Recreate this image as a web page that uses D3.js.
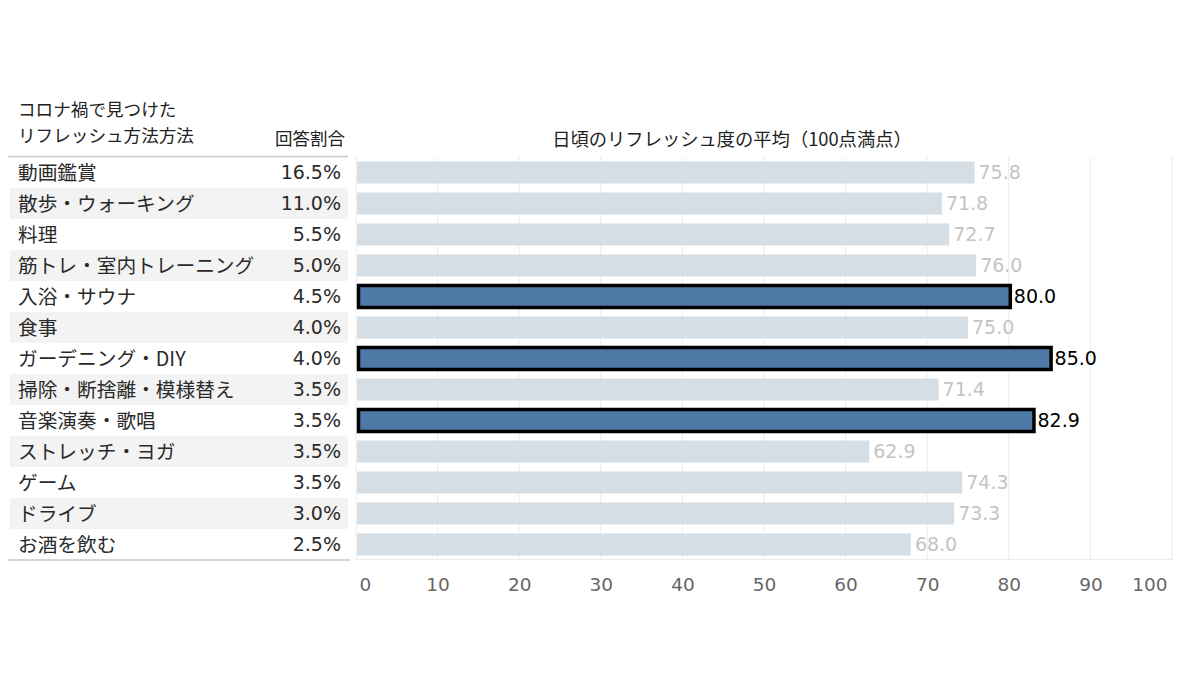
<!DOCTYPE html>
<html><head><meta charset="utf-8">
<script src="https://cdn.jsdelivr.net/npm/d3@7"></script>
<style>body{margin:0;background:#fff}svg{display:block}text{font-family:"DejaVu Sans","Noto Sans CJK JP",sans-serif}</style>
</head><body><svg id="c" width="1200" height="675"></svg>
<script>
const categories = ["動画鑑賞","散歩・ウォーキング","料理","筋トレ・室内トレーニング","入浴・サウナ","食事","ガーデニング・DIY","掃除・断捨離・模様替え","音楽演奏・歌唱","ストレッチ・ヨガ","ゲーム","ドライブ","お酒を飲む"];
const shares = ["16.5%","11.0%","5.5%","5.0%","4.5%","4.0%","4.0%","3.5%","3.5%","3.5%","3.5%","3.0%","2.5%"];
const scores = [75.8,71.8,72.7,76.0,80.0,75.0,85.0,71.4,82.9,62.9,74.3,73.3,68.0];
const highlighted = ["入浴・サウナ","ガーデニング・DIY","音楽演奏・歌唱"];
const ticks = [0,10,20,30,40,50,60,70,80,90,100];
const headerLines = ["コロナ禍で見つけた","リフレッシュ方法方法"];

const svg = d3.select("#c");
const x = d3.scaleLinear().domain([0,100]).range([356,1172]);
const y = d3.scaleBand().domain(categories).range([157,560]).paddingInner(0.29).paddingOuter(0.145);
const rowY = d3.scaleBand().domain(categories).range([157,560]);
const jp = '"Noto Sans CJK JP","DejaVu Sans",sans-serif';

// row bands
svg.append("g").selectAll("rect").data(categories.filter((d,i)=>i%2===1)).join("rect")
  .attr("x",10).attr("width",338).attr("y",d=>rowY(d)).attr("height",rowY.bandwidth()).attr("fill","#f3f3f3");

// grid
const g = svg.append("g");
g.selectAll("line.v").data(ticks).join("line").attr("class","v")
  .attr("x1",d=>x(d)).attr("x2",d=>x(d)).attr("y1",157).attr("y2",560)
  .attr("stroke","#ececec").attr("stroke-width",1);
g.append("line").attr("x1",x(0)).attr("x2",x(100)).attr("y1",559.5).attr("y2",559.5).attr("stroke","#ececec");

// table lines
svg.append("line").attr("x1",8).attr("x2",348).attr("y1",156.5).attr("y2",156.5).attr("stroke","#c8c8c8").attr("stroke-width",1.5);
svg.append("line").attr("x1",8).attr("x2",350).attr("y1",560).attr("y2",560).attr("stroke","#c8c8c8").attr("stroke-width",1.5);

// bars
const data = categories.map((c,i)=>({c,v:scores[i],s:shares[i],h:highlighted.includes(c)}));
svg.append("g").selectAll("rect").data(data).join("rect")
  .attr("x",d=>d.h?x(0)+2.5:x(0)+1).attr("y",d=>y(d.c))
  .attr("width",d=>x(d.v)-x(0)-1).attr("height",y.bandwidth())
  .attr("fill",d=>d.h?"#4e79a7":"#d5dde5")
  .attr("stroke",d=>d.h?"#000":"none").attr("stroke-width",3.5);

// value labels
svg.append("g").selectAll("text").data(data).join("text")
  .attr("x",d=>x(d.v)+(d.h?5:4)).attr("y",d=>y(d.c)+y.bandwidth()/2).attr("dy","0.36em")
  .attr("font-size",19).attr("fill",d=>d.h?"#000":"#c4c4c4")
  .text(d=>d.v.toFixed(1));

// category labels
svg.append("g").selectAll("text").data(data).join("text")
  .attr("x",18).attr("y",d=>rowY(d.c)+rowY.bandwidth()/2).attr("dy","0.36em")
  .attr("font-size",19.7).attr("fill","#2a2a2a").style("font-family",jp).text(d=>d.c);
svg.append("g").selectAll("text").data(data).join("text")
  .attr("x",341).attr("y",d=>rowY(d.c)+rowY.bandwidth()/2).attr("dy","0.36em")
  .attr("text-anchor","end").attr("font-size",19).attr("fill","#2a2a2a").text(d=>d.s);

// axis
const ax = svg.append("g").attr("transform","translate(0,560)")
  .call(d3.axisBottom(x).tickValues(ticks).tickSize(0).tickPadding(18));
ax.select(".domain").remove();
ax.selectAll("text").attr("font-size",18.5).attr("fill","#666")
  .style("font-family",'"DejaVu Sans",sans-serif')
  .attr("text-anchor",d=>d===0?"start":d===100?"end":"middle")
  .attr("dx",d=>d===0?3:d===100?-5:0);

// headers
svg.append("g").selectAll("text").data(headerLines).join("text")
  .attr("x",18).attr("y",(d,i)=>109.5+i*26).attr("dy","0.36em")
  .attr("font-size",17.6).attr("fill","#222").style("font-family",jp).text(d=>d);
svg.append("text").attr("x",345).attr("y",139).attr("dy","0.36em").attr("text-anchor","end").attr("font-size",17.5).attr("fill","#222").style("font-family",jp).text("回答割合");
svg.append("text").attr("x",732).attr("y",139).attr("dy","0.36em").attr("text-anchor","middle").attr("font-size",18.3).attr("fill","#222").style("font-family",jp).text("日頃のリフレッシュ度の平均（100点満点）");
</script></body></html>
